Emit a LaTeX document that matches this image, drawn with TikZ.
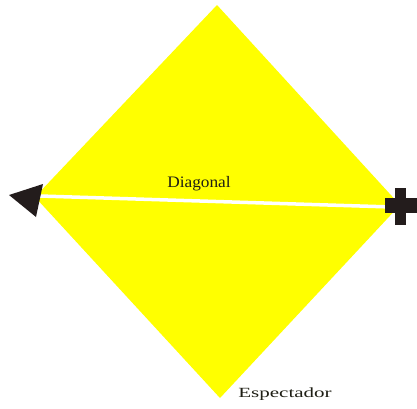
\documentclass[tikz,border=0pt]{standalone}
\usepackage{fontspec}
\setmainfont{Liberation Serif}
\definecolor{diayellow}{RGB}{255,255,0}
\definecolor{darkmark}{RGB}{35,28,28}
\definecolor{txt}{RGB}{30,30,20}
\begin{document}
\begin{tikzpicture}[x=1pt,y=-1pt,
  lbl/.style={inner sep=0pt,text=txt,font=\fontsize{16}{18}\selectfont}]
\useasboundingbox (0,0) rectangle (417,408);
\coordinate (T) at (217,5);
\coordinate (R) at (400,205);
\coordinate (B) at (220,398);
\coordinate (Lf) at (35,197);
\fill[diayellow] (T) -- (R) -- (B) -- (Lf) -- cycle;
\coordinate (a) at (40,196);
\coordinate (b) at (392,207);
\draw[white,line width=3.5pt] (a) -- (b);
% arrowhead
\fill[darkmark] (9,195) -- (43,184) -- (36,217) -- cycle;
% cross
\fill[darkmark] (395,188) rectangle (406,225);
\fill[darkmark] (385,198) rectangle (417,213);
\node[lbl,xscale=1.08] (diag) at (199,184) {Diagonal};
\node[lbl,xscale=1.5,font=\fontsize{14}{16}\selectfont] (esp) at (285,394) {Espectador};
\end{tikzpicture}
\end{document}
